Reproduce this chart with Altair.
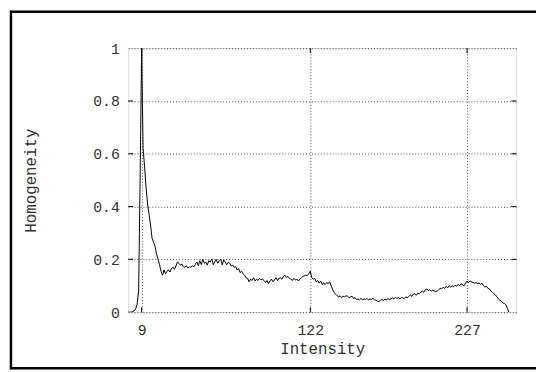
import altair as alt
import pandas as pd

homogeneity = [
    0.0, 0.0, 0.0, 0.002, 0.005, 0.012, 0.03, 0.08, 0.5, 1.0,
    0.62, 0.55, 0.47, 0.41, 0.37, 0.33, 0.28, 0.265, 0.25, 0.22,
    0.2, 0.18, 0.155, 0.14, 0.16, 0.145, 0.155, 0.16, 0.152, 0.165,
    0.17, 0.162, 0.175, 0.19, 0.185, 0.178, 0.182, 0.172, 0.17, 0.175,
    0.168, 0.172, 0.17, 0.175, 0.172, 0.18, 0.19, 0.176, 0.195, 0.18,
    0.2, 0.185, 0.19, 0.178, 0.195, 0.19, 0.202, 0.18, 0.19, 0.2,
    0.185, 0.195, 0.2, 0.18, 0.198, 0.19, 0.18, 0.188, 0.185, 0.175,
    0.178, 0.17, 0.172, 0.16, 0.165, 0.15, 0.155, 0.145, 0.14, 0.13,
    0.128, 0.115, 0.125, 0.12, 0.13, 0.118, 0.125, 0.12, 0.128, 0.122,
    0.125, 0.12, 0.112, 0.12, 0.108, 0.118, 0.125, 0.115, 0.122, 0.13,
    0.12, 0.128, 0.13, 0.125, 0.135, 0.14, 0.132, 0.135, 0.128, 0.125,
    0.12, 0.128, 0.122, 0.125, 0.118, 0.125, 0.13, 0.135, 0.138, 0.14,
    0.138, 0.145, 0.155, 0.13, 0.125, 0.128, 0.115, 0.12, 0.11, 0.118,
    0.105, 0.11, 0.105, 0.112, 0.108, 0.115, 0.1, 0.085, 0.075, 0.068,
    0.062, 0.058, 0.062, 0.055, 0.06, 0.058, 0.062, 0.06, 0.055, 0.058,
    0.06, 0.052, 0.055, 0.048, 0.05, 0.047, 0.052, 0.046, 0.05, 0.048,
    0.052, 0.046, 0.05, 0.048, 0.052, 0.047, 0.045, 0.042, 0.04, 0.045,
    0.048, 0.044, 0.05, 0.046, 0.052, 0.048, 0.05, 0.054, 0.05, 0.056,
    0.052, 0.055, 0.05, 0.056, 0.054, 0.052, 0.058, 0.054, 0.06, 0.065,
    0.06, 0.068, 0.07, 0.064, 0.072, 0.07, 0.076, 0.08, 0.075, 0.085,
    0.088, 0.082, 0.085, 0.08, 0.083, 0.08, 0.078, 0.08, 0.085, 0.09,
    0.088, 0.094, 0.09, 0.098, 0.092, 0.1, 0.095, 0.1, 0.096, 0.102,
    0.098, 0.105, 0.1, 0.108, 0.104, 0.1, 0.11, 0.118, 0.112, 0.118,
    0.115, 0.112, 0.11, 0.112, 0.108, 0.11, 0.106, 0.11, 0.1, 0.095,
    0.098, 0.09, 0.088, 0.08, 0.075, 0.07, 0.065, 0.058, 0.05, 0.045,
    0.042, 0.035, 0.033, 0.028, 0.015, 0.0,
]
intensity = list(range(len(homogeneity)))
x_ticks = [9, 122, 227]
y_ticks = [0, 0.2, 0.4, 0.6, 0.8, 1]
y_inner = [0.2, 0.4, 0.6, 0.8]

W, H = 394, 268
FONT = "Liberation Mono"

df = pd.DataFrame({"Intensity": intensity, "Homogeneity": homogeneity})

xscale = alt.Scale(domain=[0, 260], nice=False, zero=False)
yscale = alt.Scale(domain=[0, 1], nice=False)

grid_style = dict(grid=True, gridColor="#555", gridDash=[1, 2], gridWidth=1,
                  ticks=False, domain=False, labelFont=FONT, titleFont=FONT,
                  labelColor="#333", titleColor="#333", titleFontWeight="normal")

line = alt.Chart(df).mark_line(color="black", strokeWidth=1, clip=True).encode(
    x=alt.X("Intensity:Q", scale=xscale,
            axis=alt.Axis(values=x_ticks, title="Intensity", labelFontSize=15,
                          titleFontSize=16, labelPadding=11, titlePadding=3,
                          **grid_style)),
    y=alt.Y("Homogeneity:Q", scale=yscale,
            axis=alt.Axis(values=y_ticks, title="Homogeneity", labelFontSize=15,
                          titleFontSize=16, labelPadding=9, titlePadding=55,
                          labelExpr="datum.value == 0 ? '0' : datum.value == 1 ? '1' : format(datum.value, '.1f')",
                          **grid_style)),
)

xt = pd.DataFrame({"t": x_ticks})
yt = pd.DataFrame({"t": y_inner})

xtick_bottom = alt.Chart(xt).mark_rule(color="black", strokeWidth=1).encode(
    x=alt.X("t:Q", scale=xscale), y=alt.value(H), y2=alt.value(H - 5))
xtick_top = alt.Chart(xt).mark_rule(color="black", strokeWidth=1).encode(
    x=alt.X("t:Q", scale=xscale), y=alt.value(0), y2=alt.value(5))
ytick_left = alt.Chart(yt).mark_rule(color="black", strokeWidth=1).encode(
    y=alt.Y("t:Q", scale=yscale), x=alt.value(0), x2=alt.value(5))
ytick_right = alt.Chart(yt).mark_rule(color="black", strokeWidth=1).encode(
    y=alt.Y("t:Q", scale=yscale), x=alt.value(W), x2=alt.value(W - 5))

one = alt.Data(values=[{"a": 1}])
border_left = alt.Chart(one).mark_rule(color="black", strokeWidth=2.5).encode(
    x=alt.value(-119), y=alt.value(-38), y2=alt.value(326))
border_top = alt.Chart(one).mark_rule(color="black", strokeWidth=2.5).encode(
    y=alt.value(-37), x=alt.value(-120), x2=alt.value(W + 20))
border_bottom = alt.Chart(one).mark_rule(color="black", strokeWidth=2.5).encode(
    y=alt.value(325), x=alt.value(-120), x2=alt.value(W + 20))

chart = alt.layer(
    line, xtick_bottom, xtick_top, ytick_left, ytick_right,
    border_left, border_top, border_bottom,
).properties(
    width=W, height=H,
    autosize=alt.AutoSizeParams(type="none"),
    padding={"left": 122, "top": 38, "right": 20, "bottom": 58},
).configure_view(
    stroke="black", strokeWidth=1.5
).configure(background="white")

chart.save("out.html", embed_options={"renderer": "svg", "actions": False})
